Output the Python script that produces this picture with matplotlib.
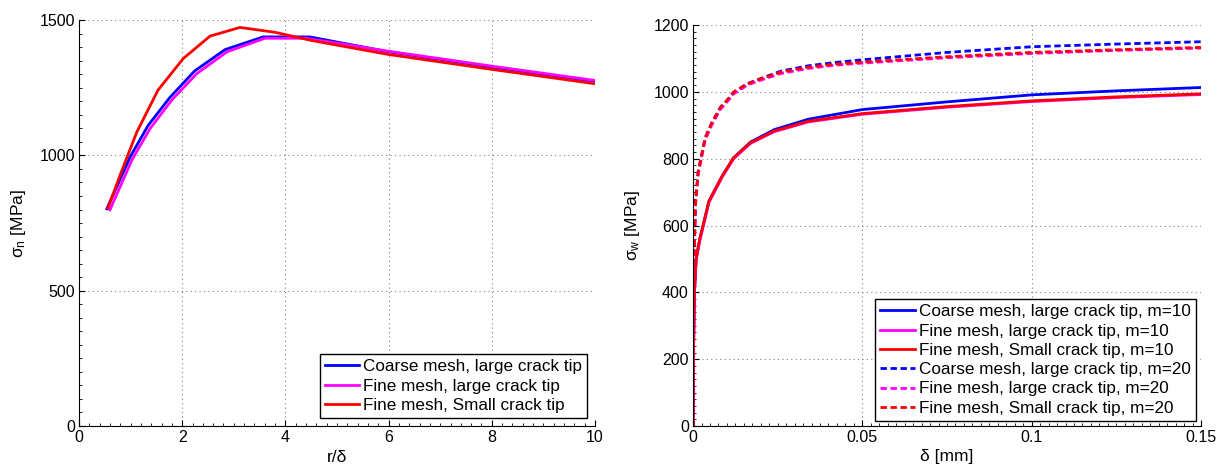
import numpy as np
import matplotlib
matplotlib.use('Agg')
import matplotlib.pyplot as plt
from matplotlib.ticker import MultipleLocator, FixedLocator, FixedFormatter

plt.rcParams['font.family'] = ['Liberation Sans', 'DejaVu Sans']
plt.rcParams['mathtext.fontset'] = 'custom'
plt.rcParams['mathtext.rm'] = 'Liberation Sans'
plt.rcParams['mathtext.default'] = 'regular'

# left panel: normal stress vs r/delta
r_coarse_large = [0.54, 0.99, 1.34, 1.76, 2.24, 2.83, 3.57, 4.47, 6.0, 8.0, 10.0]
s_coarse_large = [803, 994, 1111, 1214, 1312, 1391, 1438, 1438, 1383, 1327, 1274]
r_fine_large = [0.60, 1.03, 1.38, 1.80, 2.28, 2.87, 3.60, 4.40, 6.0, 8.0, 10.0]
s_fine_large = [799, 985, 1100, 1205, 1302, 1383, 1433, 1433, 1385, 1330, 1277]
r_fine_small = [0.56, 0.83, 1.12, 1.53, 2.02, 2.54, 3.12, 3.80, 4.50, 6.0, 8.0, 10.0]
s_fine_small = [806, 944, 1086, 1241, 1358, 1441, 1473, 1455, 1425, 1373, 1318, 1265]

left_labels = ['Coarse mesh, large crack tip', 'Fine mesh, large crack tip',
               'Fine mesh, Small crack tip']

# right panel: Weibull stress vs delta
d = [0, 0.0001, 0.0004, 0.0009, 0.002, 0.0047, 0.0086, 0.012, 0.017, 0.024,
     0.034, 0.05, 0.075, 0.1, 0.125, 0.15]
sw10_coarse_large = [0, 200, 400, 500, 560, 673, 748, 803, 850, 887, 918, 947, 970, 991, 1003, 1013]
sw10_fine_large = [0, 195, 395, 495, 555, 669, 745, 800, 846, 881, 910, 933, 954, 971, 983, 992]
sw10_fine_small = [0, 200, 400, 500, 560, 673, 748, 803, 848, 883, 912, 935, 956, 973, 985, 994]

d20 = [0, 0.0001, 0.0003, 0.0007, 0.0015, 0.0036, 0.0056, 0.0081, 0.010, 0.012,
       0.016, 0.020, 0.026, 0.034, 0.042, 0.05, 0.075, 0.1, 0.125, 0.15]
sw20_coarse_large = [0, 300, 500, 667, 760, 863, 908, 954, 974, 999, 1024, 1040,
                     1062, 1078, 1088, 1096, 1118, 1135, 1143, 1150]
sw20_fine_large = [0, 295, 495, 660, 752, 856, 902, 948, 969, 994, 1020, 1035,
                   1055, 1070, 1080, 1086, 1102, 1115, 1124, 1131]
sw20_fine_small = [0, 300, 500, 667, 760, 863, 908, 954, 974, 999, 1024, 1039,
                   1059, 1074, 1083, 1089, 1105, 1118, 1126, 1133]

right_labels = ['Coarse mesh, large crack tip, m=10', 'Fine mesh, large crack tip, m=10',
                'Fine mesh, Small crack tip, m=10', 'Coarse mesh, large crack tip, m=20',
                'Fine mesh, large crack tip, m=20', 'Fine mesh, Small crack tip, m=20']

colors = ['#0000ff', '#ff00ff', '#ff0000']
lw = 2.0
dash = (2.3, 1.3)


def style_axes(ax):
    ax.spines['top'].set_visible(False)
    ax.spines['right'].set_visible(False)
    ax.tick_params(which='both', direction='in', top=False, right=False,
                   labelsize=11.5, pad=3)
    ax.tick_params(which='major', length=4)
    ax.tick_params(which='minor', length=2)
    ax.grid(True, which='major', linestyle=(0, (1, 3)), color='#808080', linewidth=0.8)


def add_legend(ax, spacing, axpad):
    leg = ax.legend(loc='lower right', fontsize=12.3, frameon=True, fancybox=False,
                    edgecolor='black', framealpha=1, handlelength=2.0, handletextpad=0.25,
                    labelspacing=spacing, borderaxespad=axpad, borderpad=0.3)
    leg.get_frame().set_linewidth(1.0)


fig = plt.figure(figsize=(12.21, 4.66), dpi=100)

ax1 = fig.add_axes([0.0647, 0.0858, 0.4226, 0.871])
ax1.plot(r_coarse_large, s_coarse_large, color=colors[0], lw=lw, label=left_labels[0])
ax1.plot(r_fine_large, s_fine_large, color=colors[1], lw=lw, label=left_labels[1])
ax1.plot(r_fine_small, s_fine_small, color=colors[2], lw=lw, label=left_labels[2])
ax1.set_xlim(0, 10)
ax1.set_ylim(0, 1500)
ax1.xaxis.set_major_locator(MultipleLocator(2))
ax1.yaxis.set_major_locator(MultipleLocator(500))
ax1.xaxis.set_minor_locator(MultipleLocator(0.2))
ax1.yaxis.set_minor_locator(MultipleLocator(50))
style_axes(ax1)
ax1.set_xlabel('r/δ', fontsize=12.5)
ax1.set_ylabel(r'$\sigma_n$ [MPa]', fontsize=12.5)
ax1.xaxis.set_label_coords(0.5, -0.058)
ax1.yaxis.set_label_coords(-0.098, 0.5)
add_legend(ax1, 0.26, 0.45)

ax2 = fig.add_axes([0.5676, 0.0858, 0.416, 0.8605])
for sw, c, lab in zip([sw10_coarse_large, sw10_fine_large, sw10_fine_small], colors, right_labels[:3]):
    ax2.plot(d, sw, color=c, lw=lw, label=lab)
for sw, c, lab in zip([sw20_coarse_large, sw20_fine_large, sw20_fine_small], colors, right_labels[3:]):
    ax2.plot(d20, sw, color=c, lw=lw, linestyle='--', dashes=dash, label=lab)
ax2.set_xlim(0, 0.15)
ax2.set_ylim(0, 1200)
ax2.xaxis.set_major_locator(FixedLocator([0, 0.05, 0.1, 0.15]))
ax2.xaxis.set_major_formatter(FixedFormatter(['0', '0.05', '0.1', '0.15']))
ax2.yaxis.set_major_locator(MultipleLocator(200))
ax2.xaxis.set_minor_locator(MultipleLocator(0.0025))
ax2.yaxis.set_minor_locator(MultipleLocator(20))
style_axes(ax2)
ax2.set_xlabel('δ [mm]', fontsize=12.5)
ax2.set_ylabel(r'$\sigma_w$ [MPa]', fontsize=12.5)
ax2.xaxis.set_label_coords(0.5, -0.058)
ax2.yaxis.set_label_coords(-0.1, 0.5)
add_legend(ax2, 0.25, 0.3)

fig.savefig('out.png', dpi=100)
